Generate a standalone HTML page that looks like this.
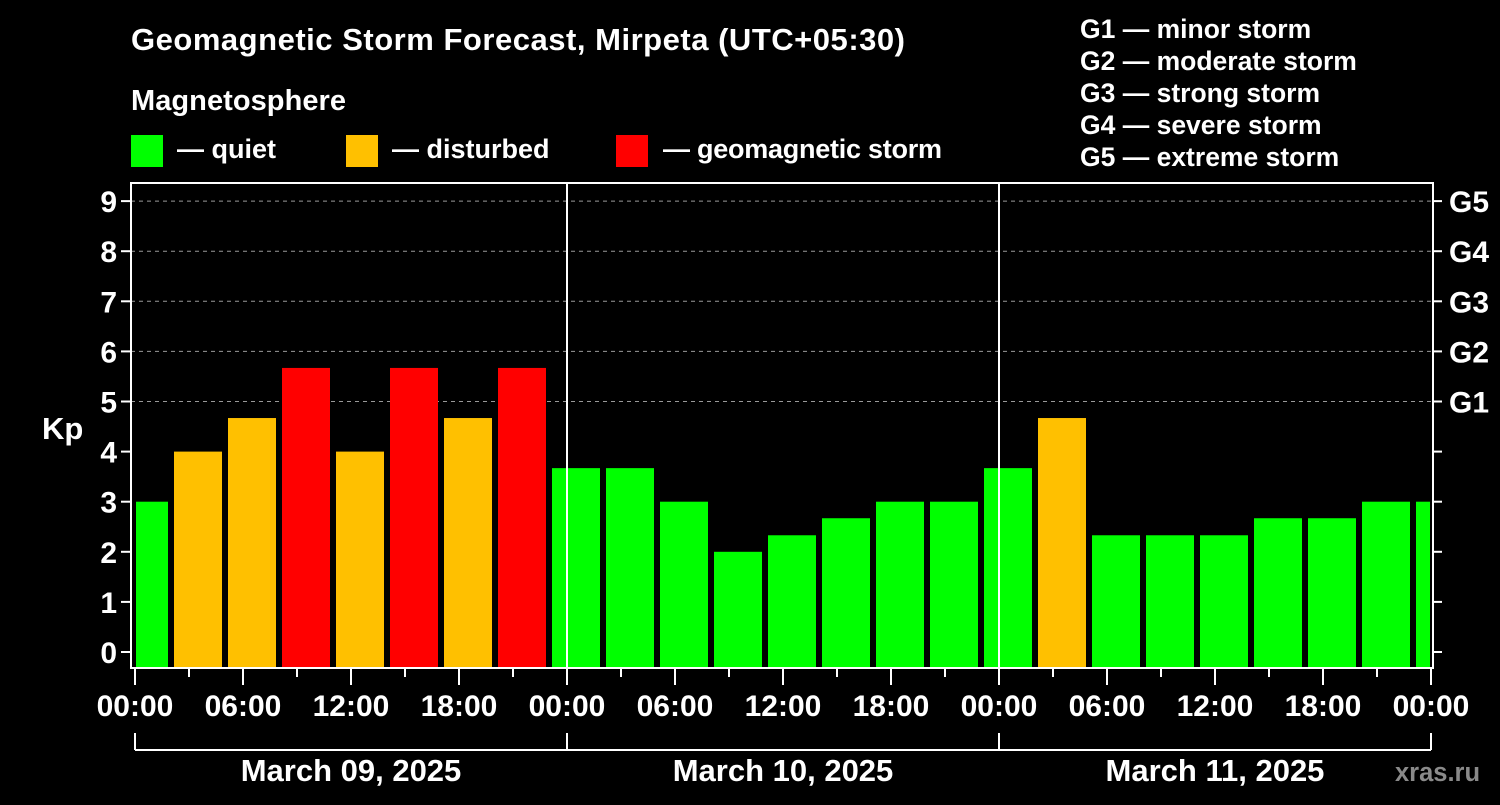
<!DOCTYPE html>
<html><head><meta charset="utf-8"><style>
body{margin:0;background:#000;width:1500px;height:800px;overflow:hidden}
svg text{font-family:"Liberation Sans",sans-serif;font-weight:bold;fill:#fff}
</style></head><body>
<svg id="c" width="1500" height="800">
<text x="131" y="50" font-size="31" textLength="774">Geomagnetic Storm Forecast, Mirpeta (UTC+05:30)</text>
<text x="131" y="110" font-size="29" textLength="215">Magnetosphere</text>
<rect x="131" y="135" width="32" height="32" fill="#00ff00"/>
<text x="177" y="158" font-size="27">— quiet</text>
<rect x="346" y="135" width="32" height="32" fill="#ffc000"/>
<text x="392" y="158" font-size="27">— disturbed</text>
<rect x="616" y="135" width="32" height="32" fill="#ff0000"/>
<text x="663" y="158" font-size="27" textLength="279">— geomagnetic storm</text>
<g font-size="26.5">
<text x="1080" y="38">G1 — minor storm</text>
<text x="1080" y="70">G2 — moderate storm</text>
<text x="1080" y="102">G3 — strong storm</text>
<text x="1080" y="134">G4 — severe storm</text>
<text x="1080" y="166">G5 — extreme storm</text>
</g>
<text x="42" y="439" font-size="31">Kp</text>
<text x="1395" y="781" font-size="25.5" style="fill:#8a8a8a">xras.ru</text>
<g id="grid"></g><g id="bars"></g><g id="axes"></g>
</svg>
<script>
const kpValues=[3,4,4.67,5.67,4,5.67,4.67,5.67,3.67,3.67,3,2,2.33,2.67,3,3,3.67,4.67,2.33,2.33,2.33,2.67,2.67,3,3];
const yTicks=[0,1,2,3,4,5,6,7,8,9];
const gLabels=["G1","G2","G3","G4","G5"];
const xTickLabels=["00:00","06:00","12:00","18:00","00:00","06:00","12:00","18:00","00:00","06:00","12:00","18:00","00:00"];
const dateLabels=["March 09, 2025","March 10, 2025","March 11, 2025"];
const L=131,R=1433,T=183,B=668;
const y=v=>652-v*50.1;
const x=h=>135+h*18;
const NS="http://www.w3.org/2000/svg";
function mk(p,t,a){const e=document.createElementNS(NS,t);for(const k in a)e.setAttribute(k,a[k]);document.getElementById(p).appendChild(e);return e;}
function col(v){return v>=5?"#ff0000":v>=4?"#ffc000":"#00ff00";}
yTicks.forEach(v=>{if(v>=5){const l=mk("grid","line",{x1:L,x2:R,y1:y(v),y2:y(v),stroke:"#999","stroke-dasharray":"4,4","stroke-width":1});

}});
kpValues.forEach((v,i)=>{const c=x(0.5+3*i);let x0=Math.max(c-24,136),x1=Math.min(c+24,1430);
const r=mk("bars","rect",{x:x0,y:y(v),width:x1-x0,height:B-y(v),fill:col(v)});

});
mk("axes","rect",{x:L,y:T,width:R-L,height:B-T,fill:"none",stroke:"#fff","stroke-width":2});
[1,2].forEach(d=>{const l=mk("axes","line",{x1:x(24*d),x2:x(24*d),y1:T,y2:B,stroke:"#fff","stroke-width":2});

});
yTicks.forEach(v=>{mk("axes","line",{x1:L-10,x2:L,y1:y(v),y2:y(v),stroke:"#fff","stroke-width":2});
mk("axes","line",{x1:R,x2:R+9,y1:y(v),y2:y(v),stroke:"#fff","stroke-width":2});
const t=mk("axes","text",{x:L-14,y:y(v)+11,"font-size":30,"text-anchor":"end"});t.textContent=v;

});
gLabels.forEach((g,i)=>{const t=mk("axes","text",{x:1449,y:y(5+i)+11,"font-size":30});t.textContent=g;

});
for(let h=0;h<=72;h+=3){const major=h%6==0;mk("axes","line",{x1:x(h),x2:x(h),y1:B,y2:major?685:677,stroke:"#fff","stroke-width":2});}
xTickLabels.forEach((s,i)=>{const t=mk("axes","text",{x:x(6*i),y:716,"font-size":30,"text-anchor":"middle"});t.textContent=s;

});
mk("axes","line",{x1:x(0),x2:x(72),y1:750,y2:750,stroke:"#fff","stroke-width":2});
for(let d=0;d<=3;d++)mk("axes","line",{x1:x(24*d),x2:x(24*d),y1:733,y2:750,stroke:"#fff","stroke-width":2});
dateLabels.forEach((s,i)=>{const t=mk("axes","text",{x:x(24*i+12),y:781,"font-size":31,"text-anchor":"middle"});t.textContent=s;

});
</script>
</body></html>
